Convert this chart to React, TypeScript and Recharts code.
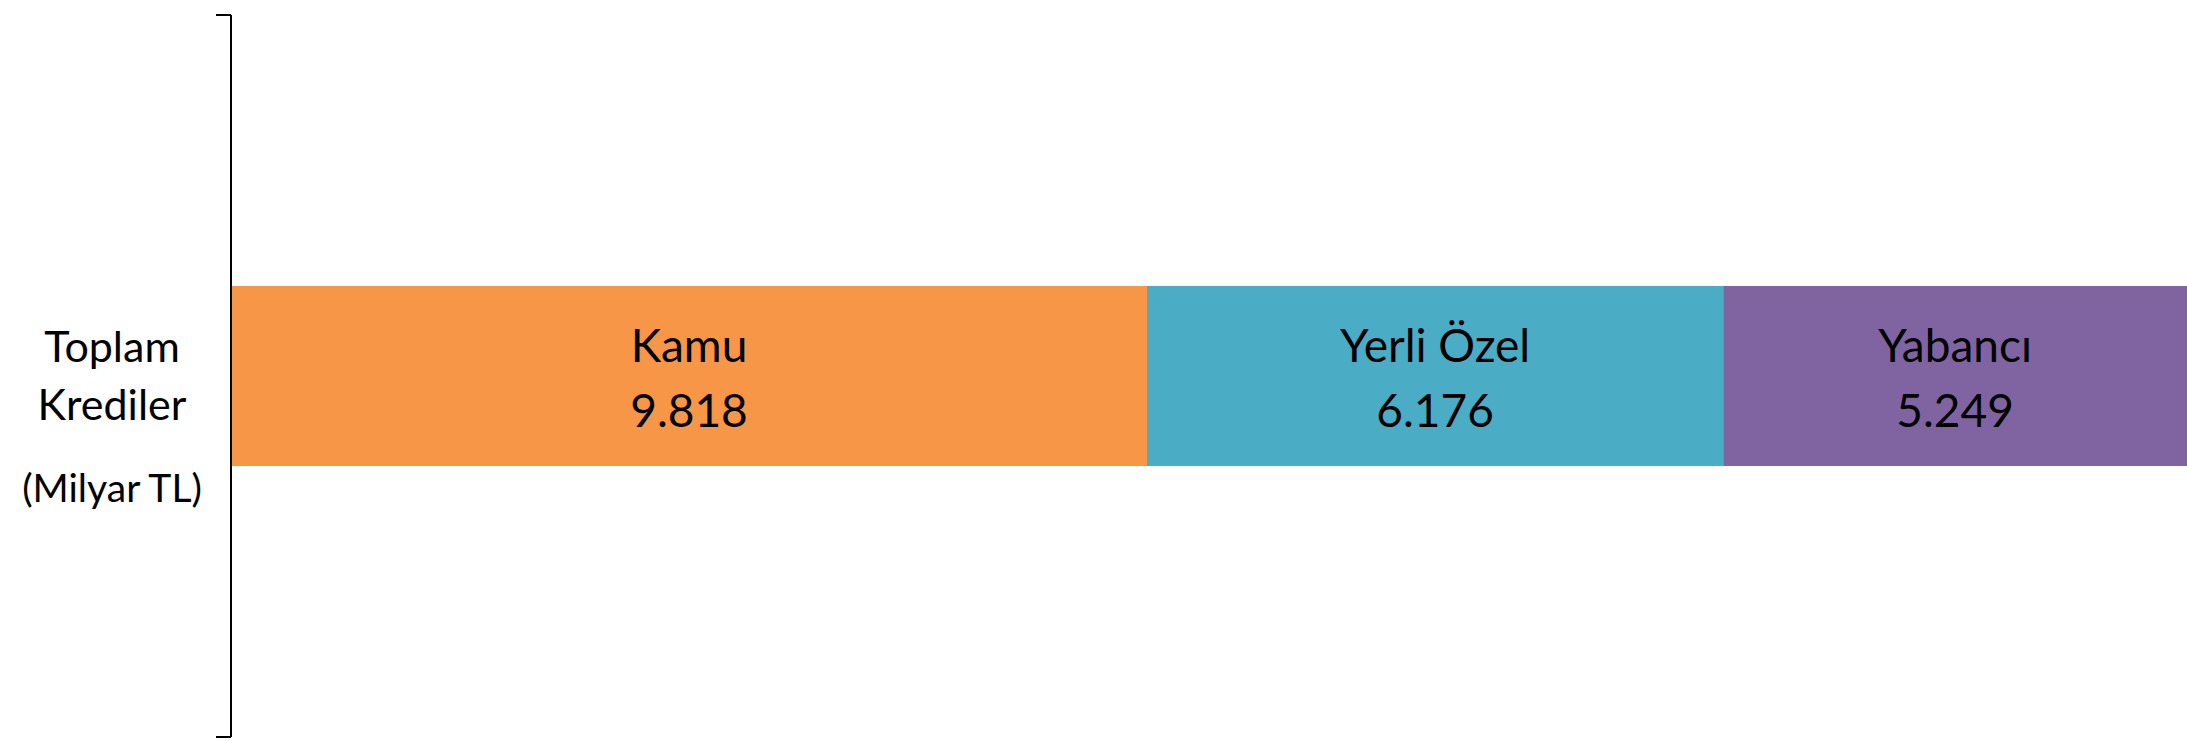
import { BarChart, Bar, XAxis, YAxis, LabelList } from "recharts"

const categories = ["Toplam Krediler"]
const kamu = [9818]
const yerliOzel = [6176]
const yabanci = [5249]

const seriesNames = { kamu: "Kamu", yerli: "Yerli Özel", yabanci: "Yabancı" }
const axisLabel = ["Toplam", "Krediler", "(Milyar TL)"]

// the picture cuts the last segment at the right edge
const xMax = 20965

const data = categories.map((name, i) => ({
  name,
  kamu: kamu[i],
  yerli: yerliOzel[i],
  yabanci: yabanci[i],
}))

const formatTR = (v: number) => String(v).replace(/\B(?=(\d{3})+(?!\d))/g, ".")

const FONT = "Lato, 'Open Sans', sans-serif"

function segmentLabel(title: string) {
  return (props: any) => {
    const { x, y, width, height, value } = props
    const cx = Number(x) + Number(width) / 2
    const cy = Number(y) + Number(height) / 2
    return (
      <g>
        <text x={cx} y={cy - 14} textAnchor="middle" fontSize={46} fontFamily={FONT} fill="#000">
          {title}
        </text>
        <text x={cx} y={cy + 51} textAnchor="middle" fontSize={46} fontFamily={FONT} fill="#000">
          {formatTR(value)}
        </text>
      </g>
    )
  }
}

// category label plus the tick marks at both edges of the band (Excel style)
function CategoryTick(props: any) {
  const { x, y, payload } = props
  const half = payload?.offset ?? 0
  const cx = x - 119
  return (
    <g>
      {half > 0 && (
        <>
          <line x1={x - 15} x2={x} y1={y - half} y2={y - half} stroke="#000" strokeWidth={2} />
          <line x1={x - 15} x2={x} y1={y + half} y2={y + half} stroke="#000" strokeWidth={2} />
        </>
      )}
      <text x={cx} y={y - 14} textAnchor="middle" fontSize={43} fontFamily={FONT} fill="#000">
        {axisLabel[0]}
      </text>
      <text x={cx} y={y + 44} textAnchor="middle" fontSize={43} fontFamily={FONT} fill="#000">
        {axisLabel[1]}
      </text>
      <text x={cx} y={y + 126} textAnchor="middle" fontSize={39} fontFamily={FONT} fill="#000">
        {axisLabel[2]}
      </text>
    </g>
  )
}

export default function App() {
  return (
    <div style={{ position: "absolute", left: 0, top: 0, background: "#fff" }}>
      <BarChart
        width={2187}
        height={741}
        data={data}
        layout="vertical"
        margin={{ top: 15, right: 0, bottom: 4, left: 0 }}
      >
        <XAxis type="number" domain={[0, xMax]} allowDataOverflow hide />
        <YAxis
          type="category"
          dataKey="name"
          width={231}
          axisLine={{ stroke: "#000", strokeWidth: 2 }}
          tickLine={false}
          tickSize={0}
          tickMargin={0}
          tick={<CategoryTick />}
        />
        <Bar dataKey="kamu" stackId="a" fill="#F79646" barSize={180} isAnimationActive={false}>
          <LabelList dataKey="kamu" content={segmentLabel(seriesNames.kamu)} />
        </Bar>
        <Bar dataKey="yerli" stackId="a" fill="#4BACC6" barSize={180} isAnimationActive={false}>
          <LabelList dataKey="yerli" content={segmentLabel(seriesNames.yerli)} />
        </Bar>
        <Bar dataKey="yabanci" stackId="a" fill="#8064A2" barSize={180} isAnimationActive={false}>
          <LabelList dataKey="yabanci" content={segmentLabel(seriesNames.yabanci)} />
        </Bar>
      </BarChart>
    </div>
  )
}
